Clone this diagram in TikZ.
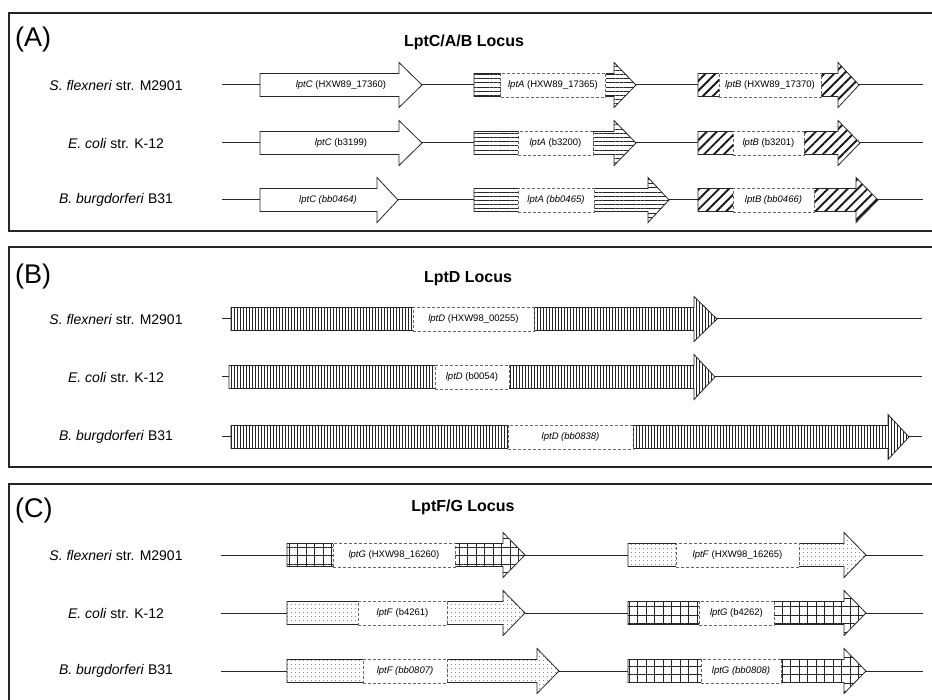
\documentclass[tikz,border=0pt]{standalone}
\usepackage{fontspec}
\setmainfont{Liberation Sans}
\usetikzlibrary{patterns.meta}
\tikzset{
  frame/.style={draw=black!85, line width=1.5pt},
  backbone/.style={line width=1pt, draw=black!85},
  genebody/.style={draw=black!85, line width=0.8pt, line join=miter},
  plainfill/.style={},
  hlinefill/.style={pattern={Lines[angle=0,distance=4.2pt,line width=0.45pt]}, pattern color=black!85},
  vlinefill/.style={pattern={Lines[angle=90,distance=3pt,line width=0.4pt]}, pattern color=black!85},
  diagfill/.style={pattern={Lines[angle=45,distance=7pt,line width=1.9pt]}, pattern color=black!90},
  gridfill/.style={pattern={Hatch[angle=0,distance=8.5pt,line width=0.5pt]}, pattern color=black!85},
  dotfill/.style={pattern={Dots[distance=4pt,radius=0.5pt]}, pattern color=black!80},
  lbl/.style={fill=white, draw=black!60, densely dashed, line width=0.4pt, minimum height=24.5pt, inner sep=0pt, font=\fontsize{9.5}{11}\selectfont},
  plainlbl/.style={inner sep=0pt, font=\fontsize{9.5}{11}\selectfont},
  species/.style={font=\fontsize{14}{16}\selectfont},
  locustitle/.style={font=\bfseries\fontsize{16}{19}\selectfont},
  panellbl/.style={font=\fontsize{27}{32}\selectfont, anchor=west, inner sep=0pt},
}
\newcommand{\genearrow}[5]{%
  \draw[genebody, preaction={fill=white}, #5] (#1,#4-11.5) -- (#2,#4-11.5) -- (#2,#4-22.5) -- (#3,#4) -- (#2,#4+22.5) -- (#2,#4+11.5) -- (#1,#4+11.5) -- cycle;}
\begin{document}
\begin{tikzpicture}[x=1pt, y=-1pt]
\useasboundingbox (0,0) rectangle (932,700);
\clip (0,0) rectangle (932,700);
\fill[white] (0,0) rectangle (932,700);
% panels
\draw[frame] (9,13) rectangle (945,231);
\draw[frame] (9,247) rectangle (945,467);
\draw[frame] (9,484) rectangle (945,715);
\node[panellbl] (pA) at (15,40) {(A)};
\node[panellbl] (pB) at (15,277) {(B)};
\node[panellbl] (pC) at (15,511) {(C)};
\node[locustitle] (tA) at (464,42) {LptC/A/B Locus};
\node[locustitle] (tB) at (468,279) {LptD Locus};
\node[locustitle] (tC) at (463,507) {LptF/G Locus};
% species labels
\foreach \yy/\nm in {85/a, 319/b, 555/c}{
  \node[species] (s\nm) at (116,\yy) {\textit{S. flexneri} str. M2901};}
\foreach \yy/\nm in {143/a, 377/b, 613/c}{
  \node[species] (e\nm) at (116,\yy) {\textit{E. coli} str. K-12};}
\foreach \yy/\nm in {200/a, 437/b, 671/c}{
  \node[species] (b\nm) at (116,\yy) {\textit{B. burgdorferi} B31};}
% backbones
\foreach \yy in {85,143,200}{\draw[backbone] (222,\yy) -- (923,\yy);}
\foreach \yy in {319,377,437}{\draw[backbone] (222,\yy) -- (922,\yy);}
\foreach \yy in {555,613,671}{\draw[backbone] (221,\yy) -- (923,\yy);}
% ---------- Panel A
\genearrow{260}{399}{422}{85}{plainfill}
\genearrow{474}{614}{636}{85}{hlinefill}
\genearrow{698}{838}{859}{85}{diagfill}
\genearrow{260}{399}{422}{143}{plainfill}
\genearrow{474}{614}{636}{143}{hlinefill}
\genearrow{698}{838}{860}{143}{diagfill}
\genearrow{260}{377}{398}{200}{plainfill}
\genearrow{474}{648}{669}{200}{hlinefill}
\genearrow{698}{856}{878}{200}{diagfill}
\node[plainlbl] (c1) at (341,85) {\textit{lptC} (HXW89\_17360)};
\node[plainlbl] (c2) at (341,143) {\textit{lptC} (b3199)};
\node[plainlbl] (c3) at (328,200) {\textit{lptC (bb0464)}};
\node[lbl, minimum width=105pt] (a1) at (553,85) {\textit{lptA} (HXW89\_17365)};
\node[lbl, minimum width=75pt] (a2) at (555.5,143) {\textit{lptA} (b3200)};
\node[lbl, minimum width=76pt] (a3) at (556,200) {\textit{lptA (bb0465)}};
\node[lbl, minimum width=102pt] (b1) at (770,85) {\textit{lptB} (HXW89\_17370)};
\node[lbl, minimum width=71pt] (b2) at (768.5,143) {\textit{lptB} (b3201)};
\node[lbl, minimum width=81pt] (b3) at (773.5,200) {\textit{lptB (bb0466)}};
% ---------- Panel B
\genearrow{231}{694}{717}{319}{vlinefill}
\genearrow{229}{694}{715}{377}{vlinefill}
\genearrow{231}{888}{909}{437}{vlinefill}
\node[lbl, minimum width=121pt] (d1) at (473.5,319) {\textit{lptD} (HXW98\_00255)};
\node[lbl, minimum width=74pt] (d2) at (472,377) {\textit{lptD} (b0054)};
\node[lbl, minimum width=125pt] (d3) at (570.5,437) {\textit{lptD (bb0838)}};
% ---------- Panel C
\genearrow{287}{503}{525}{555}{gridfill}
\genearrow{628}{844}{866}{555}{dotfill}
\genearrow{287}{503}{525}{613}{dotfill}
\genearrow{628}{844}{866}{613}{gridfill}
\genearrow{287}{537}{559}{671}{dotfill}
\genearrow{628}{844}{866}{671}{gridfill}
\node[lbl, minimum width=122pt] (g1) at (394,555) {\textit{lptG} (HXW98\_16260)};
\node[lbl, minimum width=123pt] (f1) at (737.5,555) {\textit{lptF} (HXW98\_16265)};
\node[lbl, minimum width=89pt] (f2) at (402.5,613) {\textit{lptF} (b4261)};
\node[lbl, minimum width=84pt] (f3) at (405,671) {\textit{lptF (bb0807)}};
\node[lbl, minimum width=75pt] (g2) at (736.5,613) {\textit{lptG} (b4262)};
\node[lbl, minimum width=80pt] (g3) at (741,671) {\textit{lptG (bb0808)}};
\end{tikzpicture}
\end{document}
